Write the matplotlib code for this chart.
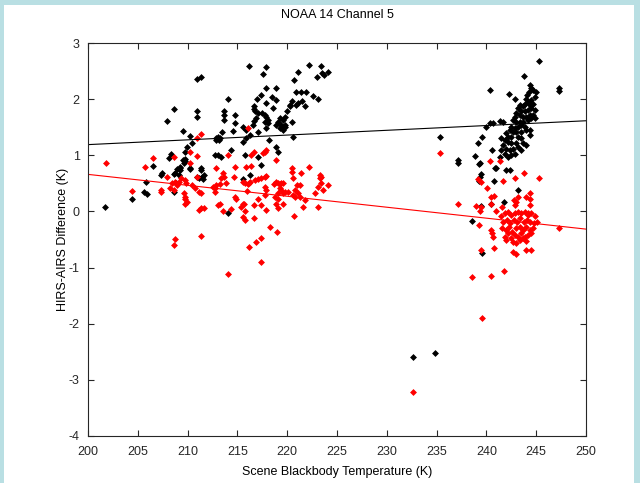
import matplotlib
matplotlib.use("Agg")
import matplotlib.pyplot as plt
from matplotlib.patches import Rectangle
import numpy as np

plt.rcParams['font.family'] = ['Liberation Sans', 'DejaVu Sans']
plt.rcParams['axes.unicode_minus'] = False

# (scene temperature K, HIRS-AIRS difference K)
black_left = [
    (201.7, 0.08), (204.4, 0.23), (205.6, 0.35), (205.9, 0.31), (205.8, 0.52),
    (206.5, 0.81), (207.3, 0.65), (207.4, 0.69), (208.6, 1.82), (207.9, 1.61),
    (210.9, 2.35), (211.3, 2.40), (210.9, 1.78), (210.9, 1.69), (209.5, 1.43),
    (210.2, 1.34), (210.4, 1.21), (209.9, 1.14), (209.7, 1.06), (208.3, 1.02),
    (208.1, 0.96), (209.5, 0.92), (209.7, 0.93), (211.3, 0.77), (212.9, 1.31),
    (213.2, 1.27), (212.8, 1.00), (208.7, 0.68), (208.9, 0.75), (209.2, 0.80),
    (209.6, 0.86), (209.7, 0.89), (210.2, 0.75), (209.2, 0.74), (209.1, 0.65),
    (210.9, 0.62), (211.3, 0.74), (211.1, 0.59), (211.4, 0.62), (211.6, 0.65),
    (211.5, 0.57), (208.6, 0.35), (208.8, 0.51), (208.6, 0.67), (209.2, 0.77),
    (210.2, 0.77),
]
black_mid = [
    (216.2, 2.59), (217.9, 2.57), (217.6, 2.45), (222.2, 2.61), (223.4, 2.59),
    (224.1, 2.49), (223.5, 2.46), (223.7, 2.43), (223.0, 2.40), (221.1, 2.49),
    (220.7, 2.34), (214.1, 2.01), (217.9, 2.19), (218.9, 2.20), (217.4, 2.07),
    (217.0, 2.01), (218.5, 2.03), (218.9, 1.98), (217.9, 1.94), (216.7, 1.88),
    (218.6, 1.85), (220.9, 2.13), (221.4, 2.13), (221.9, 2.13), (222.6, 2.06),
    (223.1, 2.01), (220.5, 1.97), (220.9, 1.90), (220.3, 1.90), (221.5, 1.97),
    (221.8, 1.88), (221.1, 1.93), (220.3, 1.87), (220.0, 1.78), (219.8, 1.69),
    (219.6, 1.63), (219.3, 1.66), (219.1, 1.60), (219.4, 1.54), (219.8, 1.51),
    (220.5, 1.60), (217.5, 1.75), (217.8, 1.72), (217.9, 1.69), (218.1, 1.63),
    (217.8, 1.60), (218.1, 1.57), (216.9, 1.66), (217.1, 1.75), (216.8, 1.78),
    (216.7, 1.82), (213.7, 1.78), (213.7, 1.72), (213.7, 1.63), (214.8, 1.72),
    (214.8, 1.57), (214.6, 1.43), (216.7, 1.61), (216.6, 1.54), (215.6, 1.51),
    (215.9, 1.45), (216.3, 1.36), (215.9, 1.30), (215.6, 1.24), (213.5, 1.42),
    (213.1, 1.33), (212.9, 1.27), (213.3, 1.30), (217.1, 1.42), (217.9, 1.48),
    (218.2, 1.27), (218.9, 1.54), (219.3, 1.49), (219.6, 1.45), (219.8, 1.54),
    (220.6, 1.33), (214.4, 1.09), (215.8, 1.00), (217.1, 0.97), (218.9, 1.15),
    (219.1, 1.06), (213.1, 1.00), (213.4, 0.97), (217.4, 0.83), (216.3, 0.65),
    (215.6, 0.57), (214.1, -0.02),
]
black_right = [
    (245.3, 2.68), (243.8, 2.41), (240.4, 2.16), (242.3, 2.10), (247.3, 2.19),
    (247.3, 2.15), (242.9, 2.00), (244.4, 2.25), (244.5, 2.19), (244.3, 2.13),
    (244.7, 2.16), (245.0, 2.13), (244.1, 2.07), (244.9, 2.04), (244.5, 1.98),
    (244.2, 1.95), (243.9, 1.92), (243.7, 1.87), (244.4, 1.90), (244.7, 1.92),
    (244.0, 2.01), (243.4, 1.90), (243.2, 1.84), (243.5, 1.78), (243.9, 1.78),
    (244.2, 1.81), (244.5, 1.84), (244.9, 1.81), (244.7, 1.72), (244.4, 1.72),
    (244.0, 1.69), (243.7, 1.69), (243.4, 1.72), (243.0, 1.75), (242.9, 1.69),
    (242.7, 1.63), (243.0, 1.60), (243.4, 1.60), (243.7, 1.60), (244.2, 1.63),
    (244.5, 1.66), (244.9, 1.66), (243.5, 1.54), (243.2, 1.51), (242.9, 1.48),
    (242.5, 1.51), (243.9, 1.51), (244.0, 1.45), (244.4, 1.45), (243.5, 1.42),
    (243.0, 1.42), (242.7, 1.42), (242.4, 1.45), (242.0, 1.39), (242.2, 1.33),
    (242.5, 1.33), (243.2, 1.33), (243.5, 1.30), (244.4, 1.36), (241.9, 1.27),
    (242.2, 1.24), (242.5, 1.21), (243.0, 1.21), (243.7, 1.21), (241.5, 1.30),
    (241.7, 1.18), (242.0, 1.12), (242.4, 1.09), (242.7, 1.12), (243.2, 1.15),
    (243.5, 1.09), (241.5, 1.09), (241.9, 1.03), (242.2, 0.97), (241.4, 0.97),
    (242.5, 1.00), (242.9, 1.03), (244.0, 1.18), (240.4, 1.58), (240.7, 1.57),
    (241.4, 1.61), (241.7, 1.60), (240.0, 1.50), (239.6, 1.32), (239.2, 1.22),
    (240.6, 1.10), (235.3, 1.32), (237.1, 0.92), (237.1, 0.86), (238.9, 0.99),
    (239.4, 0.86), (239.5, 0.67), (239.3, 0.54), (241.0, 0.77), (240.8, 0.54),
    (239.5, 0.10), (240.5, 0.14), (242.0, 0.73), (242.4, 0.73), (243.2, 0.38),
    (238.6, -0.17), (239.3, 0.84), (240.9, 0.78), (239.4, 0.62), (241.8, 0.16),
    (239.6, -0.74), (232.6, -2.59), (234.8, -2.53),
]
red_left = [
    (201.8, 0.86), (204.45, 0.37), (205.7, 0.79), (206.5, 0.96), (207.3, 0.39),
    (207.3, 0.35), (207.9, 0.62), (208.2, 0.41), (208.4, 0.50), (208.7, 0.53),
    (208.9, 0.47), (208.6, 0.38), (209.6, 0.32), (209.7, 0.23), (209.9, 0.17),
    (209.7, 0.14), (210.4, 0.47), (210.7, 0.41), (211.1, 0.35), (211.3, 0.32),
    (209.7, 0.26), (211.3, 0.06), (211.6, 0.06), (211.1, 0.03), (213.1, 0.11),
    (212.8, 0.41), (212.9, 0.47), (212.6, 0.44), (211.3, -0.44), (208.7, -0.49),
    (208.6, -0.60), (211.3, 1.38), (210.9, 1.30), (210.2, 1.06), (210.9, 0.99),
    (208.6, 0.97), (210.2, 0.86), (210.9, 0.62), (209.1, 0.53), (209.7, 0.56),
    (209.3, 0.59), (209.8, 0.50),
]
red_mid = [
    (212.9, 0.77), (213.6, 0.68), (213.7, 0.62), (213.4, 0.59), (213.9, 0.50),
    (213.3, 0.49), (212.8, 0.35), (214.7, 0.62), (215.6, 0.53), (215.8, 0.50),
    (216.1, 0.49), (216.3, 0.53), (216.8, 0.56), (217.1, 0.57), (217.4, 0.59),
    (217.8, 0.62), (217.9, 0.63), (216.0, 0.37), (214.8, 0.25), (214.9, 0.22),
    (213.3, 0.13), (213.6, 0.01), (214.4, 0.04), (215.6, 0.14), (215.4, 0.08),
    (215.8, 0.00), (215.6, -0.10), (215.8, -0.15), (216.7, 0.11), (216.7, -0.12),
    (217.1, 0.22), (217.8, 0.29), (217.9, 0.39), (217.8, 0.44), (217.9, 0.02),
    (217.4, 0.11), (218.9, 0.53), (219.1, 0.50), (219.3, 0.49), (219.4, 0.50),
    (219.6, 0.51), (218.7, 0.49), (219.3, 0.41), (219.4, 0.38), (219.8, 0.35),
    (220.1, 0.35), (219.6, 0.32), (219.1, 0.32), (218.8, 0.26), (219.1, 0.23),
    (218.9, 0.14), (219.6, 0.14), (219.1, 0.06), (220.5, 0.71), (221.4, 0.69),
    (222.2, 0.79), (220.6, 0.59), (221.0, 0.47), (221.3, 0.47), (220.8, 0.38),
    (220.6, 0.29), (220.8, 0.26), (221.1, 0.32), (221.3, 0.25), (221.8, 0.20),
    (221.6, 0.08), (220.7, -0.08), (222.8, 0.32), (223.1, 0.44), (223.4, 0.51),
    (223.4, 0.62), (223.6, 0.39), (224.1, 0.47), (223.1, 0.08), (223.3, 0.65),
    (223.3, 0.59), (218.3, -0.27), (219.0, -0.36), (217.4, -0.47), (216.9, -0.55),
    (216.2, -0.64), (217.4, -0.90), (214.1, -1.12), (214.8, 0.80), (216.1, 1.48),
    (216.7, 1.06), (217.8, 1.06), (217.6, 1.04), (217.9, 1.09), (218.9, 0.92),
    (214.1, 1.00), (215.9, 0.80), (216.4, 0.81), (220.5, 0.77), (215.7, 0.13),
    (216.4, 1.00), (216.2, 0.50),
]
red_right = [
    (235.3, 1.04), (237.1, 0.13), (238.6, -1.16), (240.5, -1.15), (241.8, -1.06),
    (239.5, -0.69), (240.8, -0.66), (239.3, -0.24), (239.0, 0.10), (239.4, 0.01),
    (239.5, 0.08), (240.5, -0.33), (240.6, -0.39), (240.7, -0.46), (240.4, 0.90),
    (241.4, 0.90), (239.2, 0.57), (239.5, 0.53), (240.1, 0.41), (240.5, 0.26),
    (240.8, 0.27), (240.5, 0.14), (241.7, 0.55), (242.9, 0.59), (243.8, 0.69),
    (245.3, 0.59), (241.0, 0.01), (241.6, 0.08), (242.8, 0.21), (243.0, 0.17),
    (242.9, 0.11), (244.0, 0.26), (244.4, 0.32), (244.4, 0.11), (244.2, -0.02),
    (247.3, -0.30), (242.7, -0.72), (243.0, -0.75), (244.0, -0.69), (244.5, -0.68),
    (241.5, -0.09), (241.9, -0.03), (242.2, -0.01), (242.5, -0.06), (242.9, -0.03),
    (243.2, -0.01), (243.5, -0.03), (243.9, -0.01), (244.2, -0.06), (244.5, -0.03),
    (244.9, -0.09), (241.7, -0.18), (242.1, -0.15), (242.4, -0.21), (242.8, -0.15),
    (243.1, -0.18), (243.4, -0.12), (243.8, -0.18), (244.1, -0.15), (244.4, -0.18),
    (244.8, -0.21), (241.6, -0.30), (242.0, -0.33), (242.3, -0.27), (242.6, -0.36),
    (243.0, -0.30), (243.4, -0.27), (243.7, -0.33), (244.0, -0.27), (244.4, -0.33),
    (244.7, -0.30), (241.9, -0.45), (242.2, -0.39), (242.5, -0.48), (242.9, -0.42),
    (243.2, -0.45), (243.5, -0.39), (243.9, -0.45), (244.2, -0.42), (244.5, -0.39),
    (242.0, -0.51), (242.7, -0.54), (243.4, -0.51), (244.0, -0.52), (243.7, -0.48),
    (243.0, -0.57), (245.1, -0.18), (244.4, 0.23), (243.2, 0.26),
    (239.6, -1.89), (232.6, -3.22),
]

# straight-line fits as drawn: (intercept at 200 K, slope per K)
black_fit = (1.19, 0.0085)
red_fit = (0.66, -0.0195)

x_ticks = list(range(200, 251, 5))
y_ticks = list(range(-4, 4))

fig = plt.figure(figsize=(6.4, 4.83), dpi=100, facecolor='#b9dfe3')
# white panel inside the light blue frame
fig.patches.append(Rectangle((4 / 640, 0), 630 / 640, 478 / 483,
                             transform=fig.transFigure, facecolor='white',
                             edgecolor='none', zorder=-10))
ax = fig.add_axes([88 / 640, 47 / 483, 498 / 640, 393 / 483])
ax.set_zorder(1)

for pts, col in [(black_left + black_mid + black_right, 'black'),
                 (red_left + red_mid + red_right, 'red')]:
    t, d = np.array(pts).T
    ax.plot(t, d, linestyle='none', marker='D', ms=3.0, color=col,
            mec=col, mew=0.5)

xx = np.array([200, 250])
for (b0, m), col in [(black_fit, 'black'), (red_fit, 'red')]:
    ax.plot(xx, b0 + m * (xx - 200), color=col, lw=0.8)

ax.set_xlim(200, 250)
ax.set_ylim(-4, 3)
ax.set_xticks(x_ticks)
ax.set_yticks(y_ticks)
ax.tick_params(direction='in', length=4, top=True, right=True,
               labelsize=9, colors='#262626', width=0.8)
ax.tick_params(axis='x', pad=7)
ax.tick_params(axis='y', pad=6)
for s in ax.spines.values():
    s.set_color('#262626')
    s.set_linewidth(0.8)

ax.set_title('NOAA 14 Channel 5', fontsize=9, pad=18)
ax.set_xlabel('Scene Blackbody Temperature (K)', fontsize=9, labelpad=6)
ax.set_ylabel('HIRS-AIRS Difference (K)', fontsize=9, labelpad=0)

fig.savefig('out.png', dpi=100, facecolor=fig.get_facecolor())
